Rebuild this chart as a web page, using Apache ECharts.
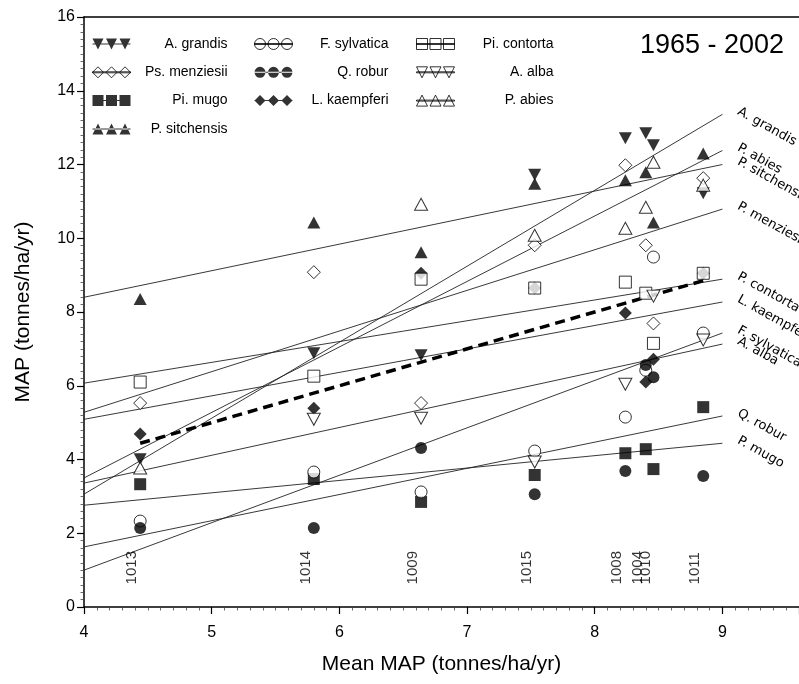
<!DOCTYPE html>
<html>
<head>
<meta charset="utf-8">
<script src="https://cdn.jsdelivr.net/npm/echarts@6/dist/echarts.min.js"></script>
<style>
  html, body { margin: 0; padding: 0; background: #fff; }
  #chart { width: 799px; height: 684px; }
</style>
</head>
<body>
<div id="chart"></div>
<script>
// sites (mean MAP of each site) and the site codes written on the plot
var siteNames = ['1013', '1014', '1009', '1015', '1008', '1004', '1010', '1011'];
var siteMeans = [4.44, 5.80, 6.64, 7.53, 8.24, 8.40, 8.46, 8.85];

// MAP per species at every site (null = no value)
var aGrandis    = [4.01, 6.88, 6.83, 11.72, 12.71, 12.85, 12.52, 11.22];
var psMenziesii = [5.53, 9.08, 5.53, 9.81, 11.98, 9.81, 7.69, 11.63];
var piMugo      = [3.33, 3.47, 2.85, 3.58, 4.17, 4.28, 3.74, 5.42];
var pSitchensis = [8.35, 10.43, 9.62, 11.48, 11.57, 11.79, 10.43, 12.30];
var fSylvatica  = [2.33, 3.66, 3.12, 4.23, 5.15, 6.42, 9.49, 7.43];
var qRobur      = [2.14, 2.14, 4.31, 3.06, 3.69, 6.56, 6.23, 3.55];
var lKaempferi  = [4.69, 5.39, 9.05, 8.65, 7.97, 6.10, 6.72, 9.05];
var piContorta  = [6.10, 6.26, 8.89, 8.65, 8.81, 8.51, 7.15, 9.05];
var aAlba       = [null, 5.09, 5.12, 3.93, 6.04, null, 8.43, 7.24];
var pAbies      = [3.77, null, 10.92, 10.08, 10.27, 10.84, 12.06, 11.44];

// fitted lines, value at x = 4 and at x = 9
var fitX     = [4, 9];
var fitNames = ['A. grandis', 'P. abies', 'P. sitchensis', 'P. menziesii', 'P. contorta',
                'L. kaempferi', 'F. sylvatica', 'A. alba', 'Q. robur', 'P. mugo'];
var fitStart = [3.06, 3.50, 8.40, 5.28, 6.07, 5.09, 1.00, 3.36, 1.63, 2.76];
var fitEnd   = [13.36, 12.38, 12.00, 10.79, 8.89, 8.27, 7.43, 7.13, 5.18, 4.44];

// 1:1 line over the range of site means
var oneToOneX = [4.44, 8.85];

var FONT = 'Liberation Sans, Arial, sans-serif';

function pts(vals) {
  return siteMeans.map(function (x, i) { return vals[i] == null ? null : [x, vals[i]]; })
                  .filter(function (p) { return p; });
}

// three-symbol legend icons (38 x 11) with a connecting bar
var bar = ' M0,5 L38,5 L38,6 L0,6 Z';
function triple(one) {
  return 'path://' + [0, 13.5, 27].map(one).join(' ') + bar;
}
var icons = {
  down: triple(function (o) { return 'M' + o + ',0 L' + (o + 11) + ',0 L' + (o + 5.5) + ',11 Z'; }),
  up: triple(function (o) { return 'M' + o + ',11 L' + (o + 11) + ',11 L' + (o + 5.5) + ',0 Z'; }),
  rect: triple(function (o) { return 'M' + o + ',0 L' + (o + 11) + ',0 L' + (o + 11) + ',11 L' + o + ',11 Z'; }),
  diamond: triple(function (o) { return 'M' + (o + 5.5) + ',0 L' + (o + 11) + ',5.5 L' + (o + 5.5) + ',11 L' + o + ',5.5 Z'; }),
  circle: triple(function (o) { return 'M' + o + ',5.5 A5.5,5.5 0 1 0 ' + (o + 11) + ',5.5 A5.5,5.5 0 1 0 ' + o + ',5.5 Z'; })
};

var filled = { color: '#000', borderWidth: 0 };
var hollow = { color: '#fff', borderColor: '#000', borderWidth: 1 };

var species = [
  { name: 'A. grandis',   data: aGrandis,    symbol: 'triangle', rot: 180, icon: icons.down,    style: filled },
  { name: 'Ps. menziesii', data: psMenziesii, symbol: 'diamond',  rot: 0,   icon: icons.diamond, style: hollow },
  { name: 'Pi. mugo',     data: piMugo,      symbol: 'rect',     rot: 0,   icon: icons.rect,    style: filled },
  { name: 'P. sitchensis', data: pSitchensis, symbol: 'triangle', rot: 0,   icon: icons.up,      style: filled },
  { name: 'F. sylvatica', data: fSylvatica,  symbol: 'circle',   rot: 0,   icon: icons.circle,  style: hollow },
  { name: 'Q. robur',     data: qRobur,      symbol: 'circle',   rot: 0,   icon: icons.circle,  style: filled },
  { name: 'L. kaempferi', data: lKaempferi,  symbol: 'diamond',  rot: 0,   icon: icons.diamond, style: filled },
  { name: 'Pi. contorta', data: piContorta,  symbol: 'rect',     rot: 0,   icon: icons.rect,    style: hollow },
  { name: 'A. alba',      data: aAlba,       symbol: 'triangle', rot: 180, icon: icons.down,    style: hollow },
  { name: 'P. abies',     data: pAbies,      symbol: 'triangle', rot: 0,   icon: icons.up,      style: hollow }
];

function symSize(s) {
  if (s === 'triangle') return [13, 12];
  if (s === 'diamond') return 13;
  return 12;
}

var series = [];

// fitted lines with their rotated names at the right end
fitNames.forEach(function (nm, i) {
  series.push({
    type: 'line',
    name: 'fit ' + nm,
    z: 2,
    silent: true,
    symbolSize: 0,
    showSymbol: true,
    lineStyle: { color: '#222', width: 0.9 },
    data: [
      [fitX[0], fitStart[i]],
      { value: [fitX[1], fitEnd[i]],
        label: { show: true, formatter: nm, position: 'right', distance: 14, rotate: -29,
                 offset: [0, -4], color: '#000', fontSize: 13, fontFamily: 'DejaVu Sans' } }
    ]
  });
});

// dashed 1:1 line
series.push({
  type: 'line',
  name: 'one to one',
  z: 2,
  silent: true,
  showSymbol: false,
  lineStyle: { color: '#000', width: 3.5, type: [10, 6] },
  data: oneToOneX.map(function (x) { return [x, x]; })
});

species.forEach(function (sp) {
  series.push({
    type: 'scatter',
    name: sp.name,
    z: 3,
    symbol: sp.symbol,
    symbolRotate: sp.rot,
    symbolSize: symSize(sp.symbol),
    itemStyle: sp.style,
    data: pts(sp.data)
  });
});

// site codes written vertically near the bottom
series.push({
  type: 'scatter',
  name: 'sites',
  z: 4,
  silent: true,
  symbolSize: 1,
  itemStyle: { color: 'rgba(0,0,0,0)' },
  label: {
    show: true,
    position: [0, 0],
    rotate: 90,
    align: 'left',
    verticalAlign: 'bottom',
    fontSize: 15,
    fontFamily: FONT,
    color: '#000',
    formatter: function (p) { return siteNames[p.dataIndex]; }
  },
  data: siteMeans.map(function (x) { return [x, 0.6]; })
});

function legendCol(left, names, textW) {
  return {
    orient: 'vertical',
    left: left,
    top: 37,
    padding: 0,
    itemWidth: 38,
    itemHeight: 12,
    itemGap: 14.3,
    selectedMode: false,
    textStyle: {
      fontFamily: FONT,
      fontSize: 14,
      color: '#000',
      rich: { r: { width: textW, align: 'right', fontSize: 14, fontFamily: FONT, color: '#000' } }
    },
    formatter: function (n) { return '{r|' + n + '}'; },
    data: names.map(function (n) {
      var sp = species.filter(function (s) { return s.name === n; })[0];
      return { name: n, icon: sp.icon, itemStyle: sp.style };
    })
  };
}

var chart = echarts.init(document.getElementById('chart'), null, { renderer: 'canvas' });
chart.setOption({
  animation: false,
  backgroundColor: '#fff',
  title: {
    text: '1965 - 2002',
    left: 640,
    top: 32,
    padding: 0,
    textStyle: { fontFamily: FONT, fontSize: 27, fontWeight: 'normal', color: '#000' }
  },
  legend: [
    legendCol(92, ['A. grandis', 'Ps. menziesii', 'Pi. mugo', 'P. sitchensis'], 92),
    legendCol(254, ['F. sylvatica', 'Q. robur', 'L. kaempferi'], 91),
    legendCol(416, ['Pi. contorta', 'A. alba', 'P. abies'], 94)
  ],
  grid: { left: 84, top: 17, right: 0, bottom: 77, containLabel: false },
  xAxis: [{
    type: 'value',
    min: 4,
    max: 9.6,
    interval: 1,
    name: 'Mean MAP (tonnes/ha/yr)',
    nameLocation: 'middle',
    nameGap: 47,
    nameTextStyle: { fontFamily: FONT, fontSize: 21, color: '#000' },
    axisLine: { show: true, lineStyle: { color: '#000', width: 1.5 } },
    axisTick: { show: true, length: 7, lineStyle: { color: '#000', width: 1.2 } },
    minorTick: { show: true, splitNumber: 10, length: 3.5, lineStyle: { color: '#444', width: 0.8 } },
    splitLine: { show: false },
    axisLabel: { showMaxLabel: false, margin: 18, fontFamily: FONT, fontSize: 16, color: '#000' }
  }, {
    type: 'value',
    position: 'top',
    min: 4,
    max: 9.6,
    interval: 1,
    axisLine: { show: true, lineStyle: { color: '#000', width: 1.5 } },
    axisTick: { show: false },
    axisLabel: { show: false },
    splitLine: { show: false }
  }],
  yAxis: {
    type: 'value',
    min: 0,
    max: 16,
    interval: 2,
    name: 'MAP (tonnes/ha/yr)',
    nameLocation: 'middle',
    nameGap: 50,
    nameTextStyle: { fontFamily: FONT, fontSize: 21, color: '#000' },
    axisLine: { show: true, lineStyle: { color: '#000', width: 1.5 } },
    axisTick: { show: true, length: 7, lineStyle: { color: '#000', width: 1.2 } },
    minorTick: { show: true, splitNumber: 10, length: 3.5, lineStyle: { color: '#444', width: 0.8 } },
    splitLine: { show: false },
    axisLabel: { margin: 9, fontFamily: FONT, fontSize: 16, color: '#000' }
  },
  series: series
});
</script>
</body>
</html>
